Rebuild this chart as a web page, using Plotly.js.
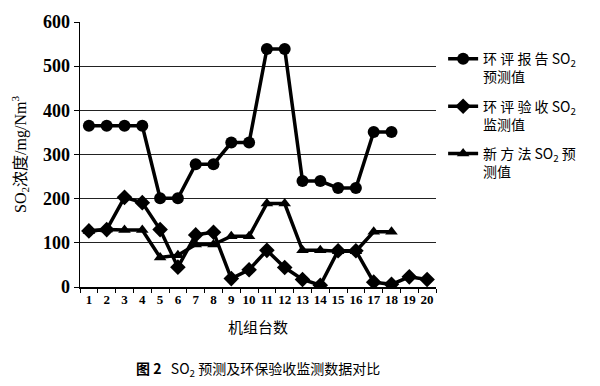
<!DOCTYPE html>
<html><head><meta charset="utf-8">
<script src="https://cdn.plot.ly/plotly-3.0.1.min.js"></script>
<style>body{margin:0;background:#fff}#c{width:600px;height:386px}</style>
</head><body><div id="c"></div>
<script>
const units = ['1','2','3','4','5','6','7','8','9','10','11','12','13','14','15','16','17','18','19','20'];
const reportPred = [365,365,365,365,201,201,278,278,327,327,539,539,240,240,224,224,351,351];
const acceptMon = [127,130,203,191,130,45,118,124,19,39,83,44,17,4,82,82,11,6,23,17];
const newPred = [127,130,129,129,67,72,96,96,115,115,189,189,83,83,81,81,125,125];
const names = ['环 评 报 告 SO<sub>2</sub><br>预测值','环 评 验 收 SO<sub>2</sub><br>监测值','新 方 法 SO<sub>2</sub> 预<br>测值'];
const yTicks = [0,100,200,300,400,500,600];

const line = {color:'#000', width:3.5};
const traces = [
  {x:units.slice(0,reportPred.length), y:reportPred, name:names[0], mode:'lines+markers', line:line, legendgroup:'a',
   marker:{symbol:'circle', size:12, color:'#000'}},
  {x:units.slice(0,acceptMon.length), y:acceptMon, name:names[1], mode:'lines+markers', line:line, legendgroup:'b',
   marker:{symbol:'diamond', size:12, color:'#000'}},
  {x:units.slice(0,newPred.length), y:newPred, name:names[2], mode:'lines+markers', line:line, legendgroup:'c',
   marker:{symbol:'triangle-up', size:11, color:'#000'}}
];
const layout = {
  width:600, height:386,
  margin:{l:80, r:164, t:22, b:99},
  paper_bgcolor:'#fff', plot_bgcolor:'#fff',
  showlegend:true,
  legend:{x:1.02, y:0.92, xanchor:'left', yanchor:'top', valign:'top', tracegroupgap:8, itemwidth:30,
    font:{family:'Noto Sans CJK SC', size:14, color:'#000'}, bgcolor:'rgba(0,0,0,0)'},
  xaxis:{type:'category', categoryarray:units, range:[-0.5,19.5], tickson:'boundaries', ticks:'outside', ticklen:4, tickcolor:'#000',
    showline:true, linecolor:'#000', linewidth:1.5, showgrid:false, zeroline:false, tickangle:0,
    tickfont:{family:'Liberation Serif', size:13, color:'#000', weight:'bold'},
    title:{text:'机组台数', font:{family:'Noto Sans CJK SC', size:15, color:'#000'}, standoff:16}},
  yaxis:{range:[0,600], tickvals:yTicks, ticktext:yTicks.map(String), ticks:'outside', ticklen:5, tickcolor:'#000',
    showline:true, linecolor:'#000', linewidth:1.5, showgrid:true, gridcolor:'#222', gridwidth:1, zeroline:false,
    tickfont:{family:'Liberation Serif', size:18, color:'#000', weight:'bold'},
    title:{text:'SO<sub>2</sub>浓度/mg/Nm<sup>3</sup>', font:{family:'Liberation Serif, Noto Sans CJK SC', size:16, color:'#000'}, standoff:12}},
  annotations:[{xref:'paper', yref:'paper', x:0.5, y:-0.31, xanchor:'center', yanchor:'middle', showarrow:false,
    text:'<b>图 2</b>   SO<sub>2</sub> 预测及环保验收监测数据对比', font:{family:'Noto Sans CJK SC', size:14, color:'#000'}}]
};
Plotly.newPlot('c', traces, layout, {displayModeBar:false, staticPlot:true});
</script></body></html>
